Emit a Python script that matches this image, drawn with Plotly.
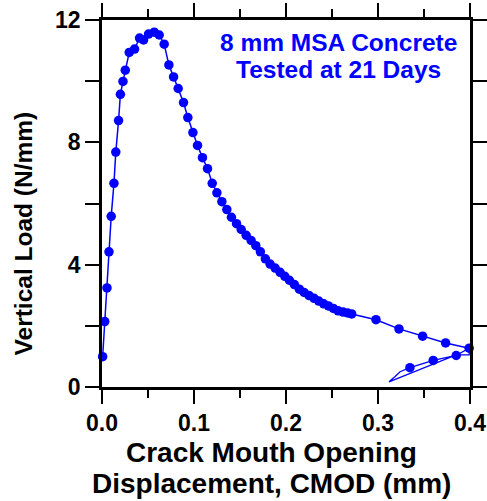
import plotly.graph_objects as go

# Main load–CMOD curve (marked points)
cmod = [0.0007, 0.0030, 0.0054, 0.0076, 0.0100, 0.0130, 0.0150, 0.0180, 0.0200, 0.0228,
        0.0253, 0.0296, 0.0354, 0.0408, 0.0452, 0.0506, 0.0568, 0.0622, 0.0676, 0.0727,
        0.0778, 0.0828, 0.0886, 0.0933, 0.0988, 0.1038, 0.1092, 0.1147, 0.1198, 0.1249,
        0.1303, 0.1357, 0.1407, 0.1462, 0.1513, 0.1567, 0.1621, 0.1672, 0.1722, 0.1776,
        0.1827, 0.1882, 0.1936, 0.1987, 0.2037, 0.2091, 0.2145, 0.2197, 0.2251, 0.2305,
        0.2356, 0.2410, 0.2461, 0.2515, 0.2566, 0.2620, 0.2670, 0.2714, 0.2978, 0.3228,
        0.3485, 0.3735, 0.3991]
load = [0.99, 2.14, 3.24, 4.42, 5.58, 6.66, 7.68, 8.71, 9.57, 9.99,
        10.36, 10.94, 11.05, 11.41, 11.35, 11.54, 11.60, 11.51, 11.21, 10.53,
        10.14, 9.76, 9.30, 8.81, 8.32, 7.90, 7.50, 7.14, 6.66, 6.35,
        6.06, 5.80, 5.55, 5.34, 5.15, 4.96, 4.79, 4.62, 4.42, 4.19,
        4.02, 3.89, 3.75, 3.62, 3.49, 3.35, 3.20, 3.09, 2.99, 2.90,
        2.81, 2.72, 2.65, 2.57, 2.49, 2.45, 2.42, 2.39, 2.20, 1.90,
        1.66, 1.44, 1.27]

# Unload / reload loop path (line only)
loop_cmod = [0.3991, 0.3991, 0.3850, 0.3120, 0.3180, 0.3240, 0.3347, 0.3600, 0.3850, 0.3991]
loop_load = [1.27, 1.05, 1.05, 0.17, 0.33, 0.50, 0.63, 0.87, 1.03, 1.27]

# Reload marked points
reload_cmod = [0.3347, 0.3600, 0.3850]
reload_load = [0.63, 0.87, 1.03]

x_ticks = [0.0, 0.1, 0.2, 0.3, 0.4]
x_tick_text = ["0.0", "0.1", "0.2", "0.3", "0.4"]
y_ticks = [0, 4, 8, 12]
y_tick_text = ["0", "4", "8", "12"]

x_title_lines = ["Crack Mouth Opening", "Displacement, CMOD (mm)"]
y_title = "Vertical Load (N/mm)"
note_lines = ["8 mm MSA Concrete", "Tested at 21 Days"]

BLUE = "#0000ff"
FONT = "Liberation Sans, Arial, sans-serif"

fig = go.Figure()
fig.add_trace(go.Scatter(x=loop_cmod, y=loop_load, mode="lines",
                         line=dict(color=BLUE, width=1.3), cliponaxis=False,
                         showlegend=False, hoverinfo="skip"))
fig.add_trace(go.Scatter(x=cmod, y=load, mode="lines+markers",
                         line=dict(color=BLUE, width=1.5),
                         marker=dict(color=BLUE, size=9.5),
                         cliponaxis=False, showlegend=False))
fig.add_trace(go.Scatter(x=reload_cmod, y=reload_load, mode="markers",
                         marker=dict(color=BLUE, size=9.5),
                         cliponaxis=False, showlegend=False))

axis_common = dict(
    showline=True, linecolor="black", linewidth=2.5, mirror="ticks",
    ticks="outside", ticklen=14, tickwidth=2, tickcolor="black",
    showgrid=False, zeroline=False, automargin=False,
    tickfont=dict(family=FONT, size=23, color="black", weight="bold"),
)

fig.update_xaxes(range=[0, 0.4], tickvals=x_ticks, ticktext=x_tick_text,
                 minor=dict(ticks="outside", ticklen=8, tickwidth=2, tickcolor="black",
                            dtick=0.05, showgrid=False),
                 **axis_common)
fig.update_yaxes(range=[0, 12], tickvals=y_ticks, ticktext=y_tick_text,
                 minor=dict(ticks="outside", ticklen=14, tickwidth=2, tickcolor="black",
                            dtick=2, showgrid=False),
                 **axis_common)

# Axis titles (placed as annotations to match the reference's offsets)
for line, ys in zip(x_title_lines, [-65.7, -96.3]):
    fig.add_annotation(x=0.1838, y=0, xref="x", yref="paper", yshift=ys,
                       text=line, showarrow=False, xanchor="center", yanchor="middle",
                       font=dict(family=FONT, size=28, color="black", weight="bold"))
fig.add_annotation(x=0, y=5.02, xref="paper", yref="y", xshift=-79,
                   text=y_title, showarrow=False, textangle=-90,
                   xanchor="center", yanchor="middle",
                   font=dict(family=FONT, size=24.5, color="black", weight="bold"))

# Specimen note
for line, yv in zip(note_lines, [11.25, 10.37]):
    fig.add_annotation(x=0.257, y=yv, xref="x", yref="y",
                       text=line, showarrow=False, xanchor="center", yanchor="middle",
                       font=dict(family=FONT, size=24.5, color=BLUE, weight="bold"))

fig.update_layout(width=487, height=501,
                  margin=dict(l=102, r=17, t=20, b=114),
                  plot_bgcolor="white", paper_bgcolor="white")

# remove the default 8px page margin so the chart fills the window exactly
fig.write_html("out.html", config={"displayModeBar": False},
               post_script="document.body.style.margin='0';")
